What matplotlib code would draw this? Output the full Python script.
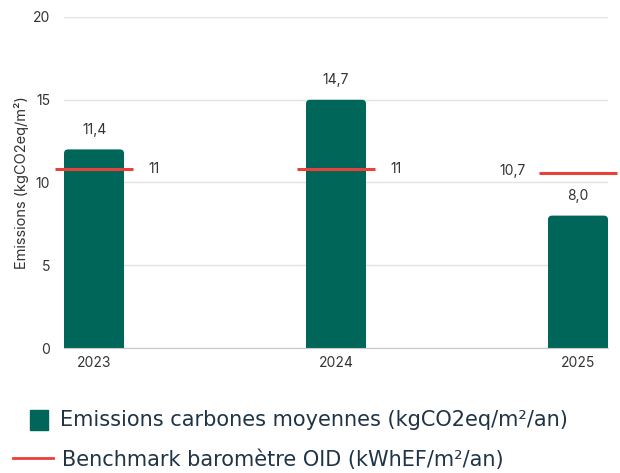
import matplotlib.pyplot as plt
from matplotlib.patches import Rectangle, FancyBboxPatch
from matplotlib.lines import Line2D

plt.rcParams['font.family'] = ['Inter', 'DejaVu Sans']

years = ['2023', '2024', '2025']
emissions = [12.0, 15.0, 8.0]          # bar heights as drawn
emission_labels = ['11,4', '14,7', '8,0']
benchmark = [10.8, 10.8, 10.55]        # benchmark line levels as drawn
benchmark_labels = ['11', '11', '10,7']

bar_color = '#00665a'
line_color = '#e8413a'
text_color = '#333333'
legend_color = '#1f3447'

fig = plt.figure(figsize=(6.2, 4.73), dpi=100)
ax = fig.add_axes([64/620, 1 - 348/473, 544/620, 331/473])

x = list(range(len(years)))
bw = 0.248
bars = ax.bar(x, emissions, width=bw, color=bar_color, zorder=3)
# rounded tops (px per unit: x 242, y 16.55)
for b in bars:
    b.set_visible(False)
    ax.add_patch(FancyBboxPatch((b.get_x(), -1), b.get_width(), b.get_height() + 1,
                                boxstyle='round,pad=0,rounding_size=0.017',
                                mutation_aspect=242/16.55, color=bar_color,
                                lw=0, zorder=3))

for i, (v, lab) in enumerate(zip(emissions, emission_labels)):
    ax.annotate(lab, (i, v), xytext=(0, 14), textcoords='offset points',
                ha='center', va='center', fontsize=10, color=text_color)

half = 0.16
for i, (b, lab) in enumerate(zip(benchmark, benchmark_labels)):
    ax.plot([i - half, i + half], [b, b], color=line_color, lw=2.2,
            zorder=4, clip_on=False, solid_capstyle='butt')
    if i == len(years) - 1:
        ax.text(i - half - 0.055, b + 0.15, lab, ha='right', va='center',
                fontsize=10, color=text_color)
    else:
        ax.text(i + half + 0.065, b, lab, ha='left', va='center',
                fontsize=10, color=text_color)

ax.set_xlim(-bw/2, len(years) - 1 + bw/2)
ax.set_ylim(0, 20)
ax.set_yticks([0, 5, 10, 15, 20])
ax.set_xticks(x)
ax.set_xticklabels(years)
ax.grid(axis='y', color='#e3e3e3', lw=1, zorder=0)
for s in ['top', 'right', 'left']:
    ax.spines[s].set_visible(False)
ax.spines['bottom'].set_color('#c8c8c8')
ax.spines['bottom'].set_zorder(4)
ax.tick_params(axis='both', length=0, labelsize=10, labelcolor=text_color)
ax.tick_params(axis='y', pad=10)
ax.tick_params(axis='x', pad=6)
ax.set_ylabel('Emissions (kgCO2eq/m²)', fontsize=10.5, color=text_color,
              va='center')
ax.yaxis.set_label_coords(-42/544, 0.5)

# legend drawn by hand
leg_font = ['DejaVu Sans']
fig.patches.append(Rectangle((30/620, 1 - 430/473), 18/620, 20/473,
                             transform=fig.transFigure, color=bar_color))
fig.text(60/620, 1 - 420/473, 'Emissions carbones moyennes (kgCO2eq/m²/an)',
         fontsize=15, color=legend_color, va='center', family=leg_font)
fig.lines.append(Line2D([13/620, 53/620], [1 - 458/473, 1 - 458/473],
                        transform=fig.transFigure, color=line_color, lw=2))
fig.text(62/620, 1 - 460/473, 'Benchmark baromètre OID (kWhEF/m²/an)',
         fontsize=15, color=legend_color, va='center', family=leg_font)

fig.savefig('out.png', dpi=100)
